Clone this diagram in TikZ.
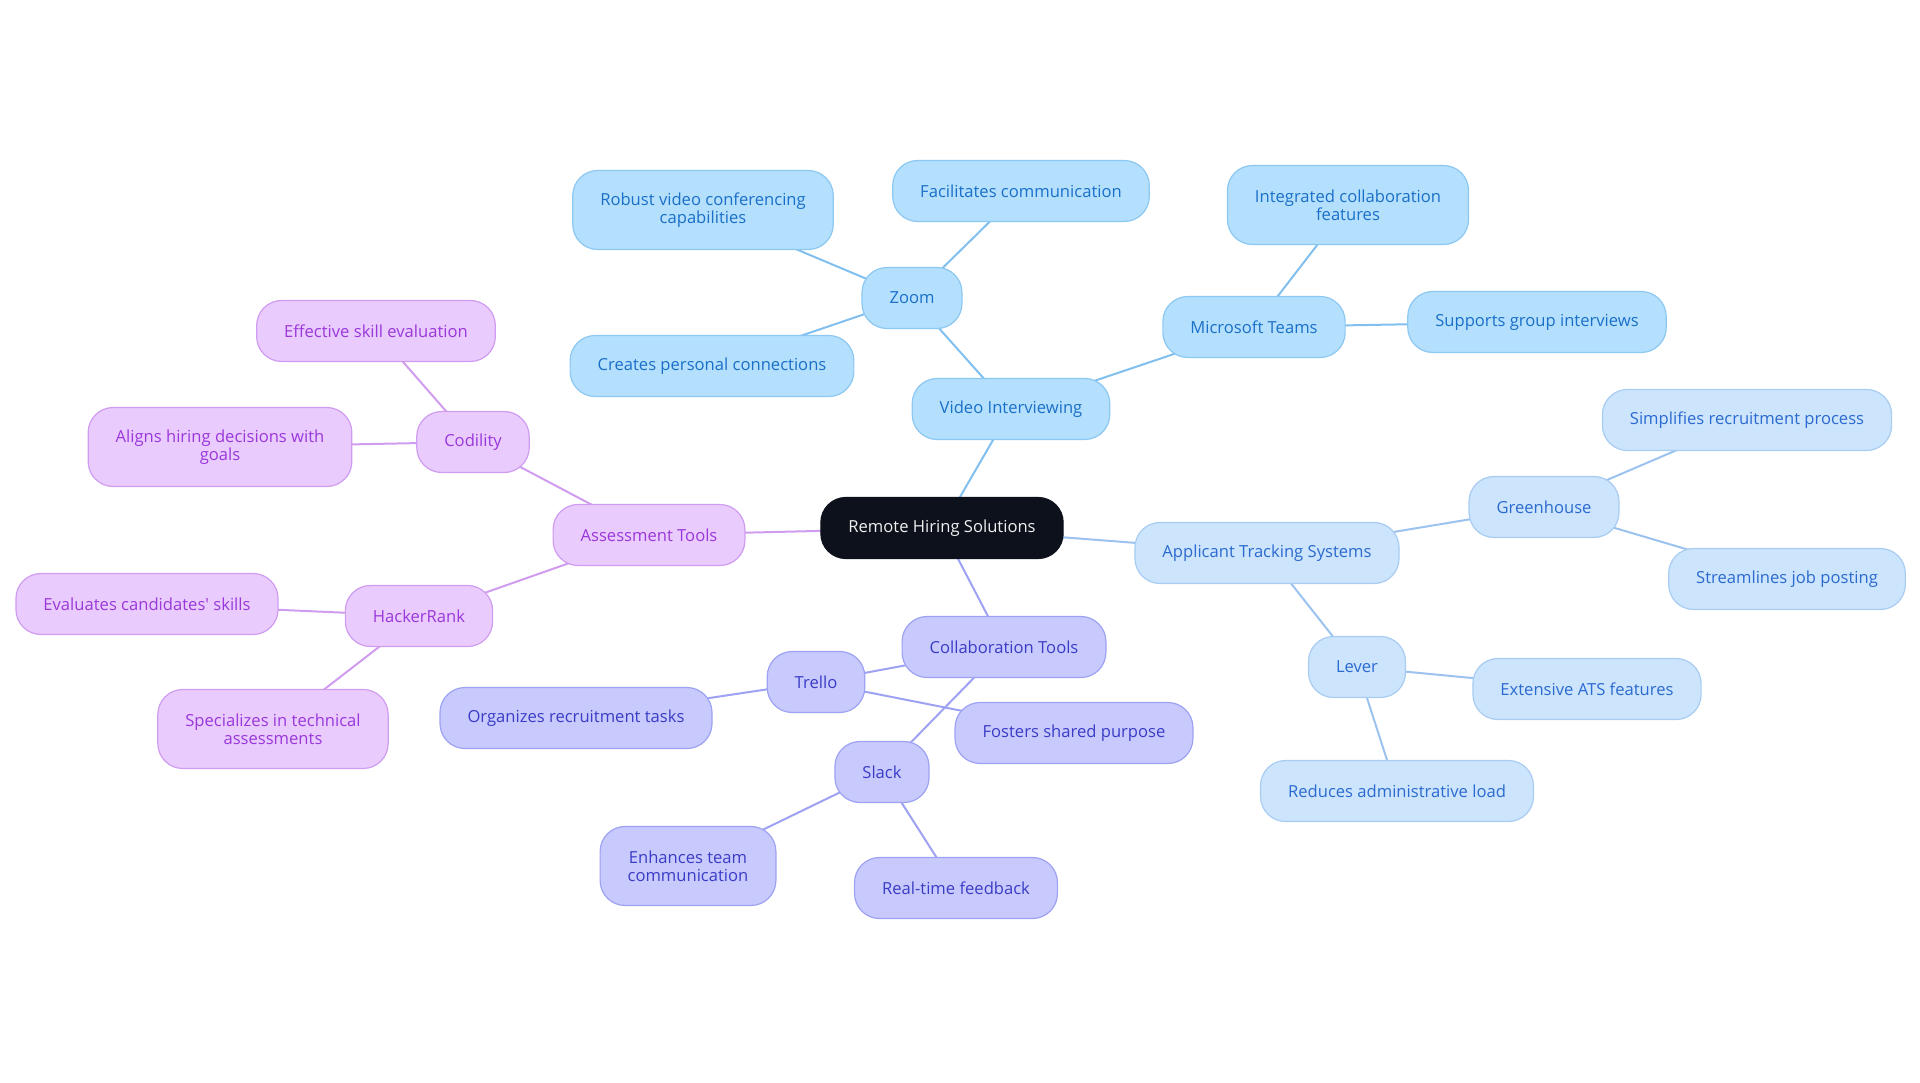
\documentclass[tikz,border=0pt]{standalone}
\usepackage{fontspec}
\setmainfont{Open Sans}
\usetikzlibrary{backgrounds}
\definecolor{rootfill}{HTML}{0C111B}
\definecolor{vidfill}{HTML}{B4E0FD}
\definecolor{viddraw}{HTML}{8CC8F2}
\definecolor{vidtext}{HTML}{1A6FC8}
\definecolor{atsfill}{HTML}{CCE4FC}
\definecolor{atsdraw}{HTML}{A8CCF2}
\definecolor{atstext}{HTML}{2B6AD0}
\definecolor{colfill}{HTML}{C8CAFD}
\definecolor{coldraw}{HTML}{9EA2F2}
\definecolor{coltext}{HTML}{3A3CC6}
\definecolor{assfill}{HTML}{E9CBFD}
\definecolor{assdraw}{HTML}{D09CF0}
\definecolor{asstext}{HTML}{9A38DA}

\begin{document}
\begin{tikzpicture}[x=1pt,y=-1pt,% one unit is one pixel of the reference
		every node/.style={
			align=center,		% so that "\\" breaks a line
			rounded corners=25pt,
			minimum height=61pt,
			inner xsep=27.5pt,
			line width=1.2pt,
			font=\fontsize{16.6}{18.4}\selectfont
		},
		every edge/.style={draw,line width=2pt},
		tall/.style={minimum height=79pt},
		rootbox/.style={fill=rootfill,draw=rootfill,text=white!94!black},
		vidbox/.style={fill=vidfill,draw=viddraw,text=vidtext},
		atsbox/.style={fill=atsfill,draw=atsdraw,text=atstext},
		colbox/.style={fill=colfill,draw=coldraw,text=coltext},
		assbox/.style={fill=assfill,draw=assdraw,text=asstext}
	]
	\useasboundingbox (0,0) rectangle (1920,1083);
	% centre
	\node[rootbox](Root) at (942,528) {Remote Hiring Solutions};
	% video interviewing
	\node[vidbox](Video) at (1011,409) {Video Interviewing};
	\node[vidbox](Zoom) at (912,298) {Zoom};
	\node[vidbox](ZoomA) at (1021,191) {Facilitates communication};
	\node[vidbox,tall](ZoomB) at (703,210) {Robust video conferencing\\capabilities};
	\node[vidbox](ZoomC) at (712,366) {Creates personal connections};
	\node[vidbox](Teams) at (1254,327) {Microsoft Teams};
	\node[vidbox,tall](TeamsA) at (1348,205) {Integrated collaboration\\features};
	\node[vidbox](TeamsB) at (1537,322) {Supports group interviews};
	% applicant tracking
	\node[atsbox](ATS) at (1267,553) {Applicant Tracking Systems};
	\node[atsbox](Green) at (1544,507) {Greenhouse};
	\node[atsbox](GreenA) at (1747,420) {Simplifies recruitment process};
	\node[atsbox](GreenB) at (1787,579) {Streamlines job posting};
	\node[atsbox](Lever) at (1357,667) {Lever};
	\node[atsbox](LeverA) at (1587,689) {Extensive ATS features};
	\node[atsbox](LeverB) at (1397,791) {Reduces administrative load};
	% collaboration
	\node[colbox](Collab) at (1004,647) {Collaboration Tools};
	\node[colbox](Trello) at (816,682) {Trello};
	\node[colbox](TrelloA) at (576,718) {Organizes recruitment tasks};
	\node[colbox](TrelloB) at (1074,733) {Fosters shared purpose};
	\node[colbox](Slack) at (882,772) {Slack};
	\node[colbox,tall](SlackA) at (688,866) {Enhances team\\communication};
	\node[colbox](SlackB) at (956,888) {Real-time feedback};
	% assessment
	\node[assbox](Assess) at (649,535) {Assessment Tools};
	\node[assbox](Codility) at (473,442) {Codility};
	\node[assbox](CodilityA) at (376,331) {Effective skill evaluation};
	\node[assbox,tall](CodilityB) at (220,447) {Aligns hiring decisions with\\goals};
	\node[assbox](Hacker) at (419,616) {HackerRank};
	\node[assbox](HackerA) at (147,604) {Evaluates candidates\textquotesingle{} skills};
	\node[assbox,tall](HackerB) at (273,729) {Specializes in technical\\assessments};
	\begin{scope}[on background layer]% lines run centre to centre, under the boxes
		\path[viddraw!90!vidtext]
		(Root.center)edge (Video.center)
		(Video.center)edge (Zoom.center)
		(Zoom.center)edge (ZoomA.center)
		(Zoom.center)edge (ZoomB.center)
		(Zoom.center)edge (ZoomC.center)
		(Video.center)edge (Teams.center)
		(Teams.center)edge (TeamsA.center)
		(Teams.center)edge (TeamsB.center)
		;
		\path[atsdraw!90!atstext]
		(Root.center)edge (ATS.center)
		(ATS.center)edge (Green.center)
		(Green.center)edge (GreenA.center)
		(Green.center)edge (GreenB.center)
		(ATS.center)edge (Lever.center)
		(Lever.center)edge (LeverA.center)
		(Lever.center)edge (LeverB.center)
		;
		\path[coldraw]
		(Root.center)edge (Collab.center)
		(Collab.center)edge (Trello.center)
		(Trello.center)edge (TrelloA.center)
		(Trello.center)edge (TrelloB.center)
		(Collab.center)edge (Slack.center)
		(Slack.center)edge (SlackA.center)
		(Slack.center)edge (SlackB.center)
		;
		\path[assdraw]
		(Root.center)edge (Assess.center)
		(Assess.center)edge (Codility.center)
		(Codility.center)edge (CodilityA.center)
		(Codility.center)edge (CodilityB.center)
		(Assess.center)edge (Hacker.center)
		(Hacker.center)edge (HackerA.center)
		(Hacker.center)edge (HackerB.center)
		;
	\end{scope}
\end{tikzpicture}
\end{document}
